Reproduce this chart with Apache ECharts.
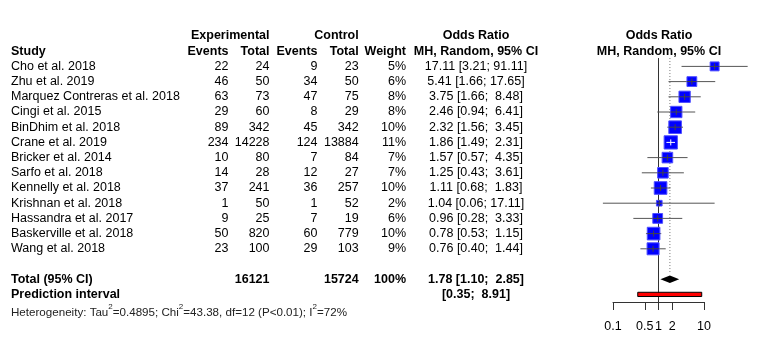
<!DOCTYPE html>
<html>
<head>
<meta charset="utf-8">
<script src="https://cdn.jsdelivr.net/npm/echarts@6/dist/echarts.min.js"></script>
<style>
  html, body { margin: 0; padding: 0; background: #fff; }
  #chart { width: 765px; height: 343px; }
</style>
</head>
<body>
<div id="chart"></div>
<script>
// study data
const studies = [
  'Cho et al. 2018', 'Zhu et al. 2019', 'Marquez Contreras et al. 2018', 'Cingi et al. 2015',
  'BinDhim et al. 2018', 'Crane et al. 2019', 'Bricker et al. 2014', 'Sarfo et al. 2018',
  'Kennelly et al. 2018', 'Krishnan et al. 2018', 'Hassandra et al. 2017',
  'Baskerville et al. 2018', 'Wang et al. 2018'
]
const expEvents = [22, 46, 63, 29, 89, 234, 10, 14, 37, 1, 9, 50, 23]
const expTotal = [24, 50, 73, 60, 342, 14228, 80, 28, 241, 50, 25, 820, 100]
const ctrlEvents = [9, 34, 47, 8, 45, 124, 7, 12, 36, 1, 7, 60, 29]
const ctrlTotal = [23, 50, 75, 29, 342, 13884, 84, 27, 257, 52, 19, 779, 103]
const weights = [5, 6, 8, 8, 10, 11, 7, 7, 10, 2, 6, 10, 9]
const oddsRatio = [17.11, 5.41, 3.75, 2.46, 2.32, 1.86, 1.57, 1.25, 1.11, 1.04, 0.96, 0.78, 0.76]
const ciLower = [3.21, 1.66, 1.66, 0.94, 1.56, 1.49, 0.57, 0.43, 0.68, 0.06, 0.28, 0.53, 0.40]
const ciUpper = [91.11, 17.65, 8.48, 6.41, 3.45, 2.31, 4.35, 3.61, 1.83, 17.11, 3.33, 1.15, 1.44]

const totalExp = 16121
const totalCtrl = 15724
const totalWeight = 100
const pooled = [1.78, 1.10, 2.85]      // estimate, lower, upper
const predInterval = [0.35, 8.91]
// heterogeneity line, {s|..} = superscript
const heterogeneity = '{n|Heterogeneity: Tau}{s|2}{n|=0.4895; Chi}{s|2}{n|=43.38, df=12 (P<0.01); I}{s|2}{n|=72%}'

const tickValues = [0.1, 0.5, 1, 2, 10]

// row layout (row index on the hidden y axis)
const ROW_TOTAL = studies.length + 1
const ROW_PRED = studies.length + 2
const ROW_HET = studies.length + 3.1

const FONT = '"Liberation Sans", Arial, sans-serif'
const FS = 12.5

function fmt(v) { return v.toFixed(2) }
function ciText(est, lo, hi) {
  const h = fmt(hi)
  return (est != null ? fmt(est) + ' ' : '') + '[' + fmt(lo) + '; ' + (h.length < 5 ? ' ' : '') + h + ']'
}

function txt(x, y, text, align, bold, size, color) {
  return {
    type: 'text',
    style: {
      x: x, y: y, text: text,
      align: align || 'left',
      verticalAlign: 'middle',
      fontFamily: FONT,
      fontSize: size || FS,
      fontWeight: bold ? 'bold' : 'normal',
      fill: color || '#000'
    }
  }
}

// column anchors (px)
const COL = { study: 11, expEv: 228.5, expTot: 269.5, ctlEv: 317.5, ctlTot: 358.7, weight: 406, ci: 476, forest: 659 }

const chart = echarts.init(document.getElementById('chart'))

const studyData = studies.map((s, i) => [oddsRatio[i], i, ciLower[i], ciUpper[i], weights[i]])

function renderTableRow(params, api) {
  const i = params.dataIndex
  const y = api.coord([1, i])[1]
  return {
    type: 'group',
    children: [
      txt(COL.study, y, studies[i], 'left'),
      txt(COL.expEv, y, String(expEvents[i]), 'right'),
      txt(COL.expTot, y, String(expTotal[i]), 'right'),
      txt(COL.ctlEv, y, String(ctrlEvents[i]), 'right'),
      txt(COL.ctlTot, y, String(ctrlTotal[i]), 'right'),
      txt(COL.weight, y, weights[i] + '%', 'right'),
      txt(COL.ci, y, ciText(oddsRatio[i], ciLower[i], ciUpper[i]), 'center')
    ]
  }
}

function renderHeaders(params, api) {
  const y1 = api.coord([1, -2])[1]
  const y2 = api.coord([1, -1])[1]
  const yt = api.coord([1, ROW_TOTAL])[1]
  const yp = api.coord([1, ROW_PRED])[1]
  const yh = api.coord([1, ROW_HET])[1]
  return {
    type: 'group',
    children: [
      txt(COL.expTot, y1, 'Experimental', 'right', true),
      txt(COL.ctlTot, y1, 'Control', 'right', true),
      txt(COL.ci, y1, 'Odds Ratio', 'center', true),
      txt(COL.forest, y1, 'Odds Ratio', 'center', true),
      txt(COL.study, y2, 'Study', 'left', true),
      txt(COL.expEv, y2, 'Events', 'right', true),
      txt(COL.expTot, y2, 'Total', 'right', true),
      txt(COL.ctlEv, y2, 'Events', 'right', true),
      txt(COL.ctlTot, y2, 'Total', 'right', true),
      txt(COL.weight, y2, 'Weight', 'right', true),
      txt(COL.ci, y2, 'MH, Random, 95% CI', 'center', true),
      txt(COL.forest, y2, 'MH, Random, 95% CI', 'center', true),
      txt(COL.study, yt, 'Total (95% CI)', 'left', true),
      txt(COL.expTot, yt, String(totalExp), 'right', true),
      txt(COL.ctlTot, yt, String(totalCtrl), 'right', true),
      txt(COL.weight, yt, totalWeight + '%', 'right', true),
      txt(COL.ci, yt, ciText(pooled[0], pooled[1], pooled[2]), 'center', true),
      txt(COL.study, yp, 'Prediction interval', 'left', true),
      txt(COL.ci, yp, ciText(null, predInterval[0], predInterval[1]), 'center', true),
      {
        type: 'text',
        style: {
          x: COL.study, y: yh, text: heterogeneity,
          align: 'left', verticalAlign: 'middle',
          rich: {
            n: { fontFamily: FONT, fontSize: 11.6, fill: '#222', lineHeight: 16, verticalAlign: 'bottom' },
            s: { fontFamily: FONT, fontSize: 8, fill: '#222', lineHeight: 16, verticalAlign: 'top' }
          }
        }
      }
    ]
  }
}

function renderStudy(params, api) {
  const r = api.value(1)
  const est = api.coord([api.value(0), r])
  const lo = api.coord([api.value(2), r])
  const hi = api.coord([api.value(3), r])
  const s = 4 * Math.sqrt(api.value(4))
  const inside = lo[0] >= est[0] - s / 2 && hi[0] <= est[0] + s / 2
  const lineColor = inside ? '#fff' : '#444'
  return {
    type: 'group',
    children: [
      { type: 'line', shape: { x1: lo[0], y1: est[1], x2: hi[0], y2: est[1] }, style: { stroke: '#555', lineWidth: 1 } },
      { type: 'rect', shape: { x: est[0] - s / 2, y: est[1] - s / 2, width: s, height: s }, style: { fill: '#0000ff', stroke: '#5050ff', lineWidth: 1 } },
      { type: 'line', shape: { x1: Math.max(lo[0], est[0] - s / 2), y1: est[1], x2: Math.min(hi[0], est[0] + s / 2), y2: est[1] }, style: { stroke: lineColor, lineWidth: 1 } },
      { type: 'line', shape: { x1: est[0], y1: est[1] - 3, x2: est[0], y2: est[1] + 3 }, style: { stroke: lineColor, lineWidth: 1 } }
    ]
  }
}

function renderSummary(params, api) {
  const rt = ROW_TOTAL
  const h = 0.25
  const pL = api.coord([pooled[1], rt])
  const pR = api.coord([pooled[2], rt])
  const pTop = api.coord([pooled[0], rt - h])
  const pBot = api.coord([pooled[0], rt + h])
  const ph = 0.14
  const a = api.coord([predInterval[0], ROW_PRED - ph])
  const b = api.coord([predInterval[1], ROW_PRED + ph])
  const nullTop = api.coord([1, -0.55])
  const nullBot = api.coord([1, 15.5])
  const sumTop = api.coord([pooled[0], -0.55])
  const sumBot = api.coord([pooled[0], 13.6])
  return {
    type: 'group',
    children: [
      { type: 'line', shape: { x1: sumTop[0], y1: sumTop[1], x2: sumBot[0], y2: sumBot[1] }, style: { stroke: '#777', lineWidth: 1, lineDash: [1, 2] } },
      { type: 'line', shape: { x1: nullTop[0], y1: nullTop[1], x2: nullBot[0], y2: nullBot[1] }, style: { stroke: '#333', lineWidth: 1 } },
      { type: 'polygon', shape: { points: [pL, [pTop[0], pTop[1]], pR, [pBot[0], pBot[1]]] }, style: { fill: '#000' } },
      { type: 'rect', shape: { x: a[0], y: a[1], width: b[0] - a[0], height: b[1] - a[1] }, style: { fill: '#ff0000', stroke: '#000', lineWidth: 1 } }
    ]
  }
}

const option = {
  animation: false,
  backgroundColor: '#fff',
  grid: { left: 613, right: 61, top: 36, height: 266, outerBoundsMode: 'none' },
  xAxis: {
    type: 'log',
    logBase: 10,
    min: 0.1,
    max: 10,
    axisLine: { show: true, onZero: false, lineStyle: { color: '#333', width: 1 } },
    axisTick: { show: true, length: 8, customValues: tickValues, lineStyle: { color: '#333' } },
    axisLabel: {
      customValues: tickValues,
      margin: 18,
      color: '#000',
      fontSize: FS,
      fontFamily: FONT,
      formatter: v => String(v)
    },
    splitLine: { show: false },
    minorTick: { show: false }
  },
  yAxis: {
    type: 'value',
    inverse: true,
    min: -2,
    max: 15.5,
    show: false
  },
  series: [
    { type: 'custom', name: 'summary', silent: true, clip: false, data: [[1, 0]], renderItem: renderSummary, z: 1 },
    { type: 'custom', name: 'studies', silent: true, clip: false, data: studyData, renderItem: renderStudy, z: 2 },
    { type: 'custom', name: 'table', silent: true, clip: false, data: studies.map((s, i) => [1, i]), renderItem: renderTableRow, z: 3 },
    { type: 'custom', name: 'headers', silent: true, clip: false, data: [[1, 0]], renderItem: renderHeaders, z: 3 }
  ]
}

chart.setOption(option)
window.addEventListener('resize', () => chart.resize())
</script>
</body>
</html>
